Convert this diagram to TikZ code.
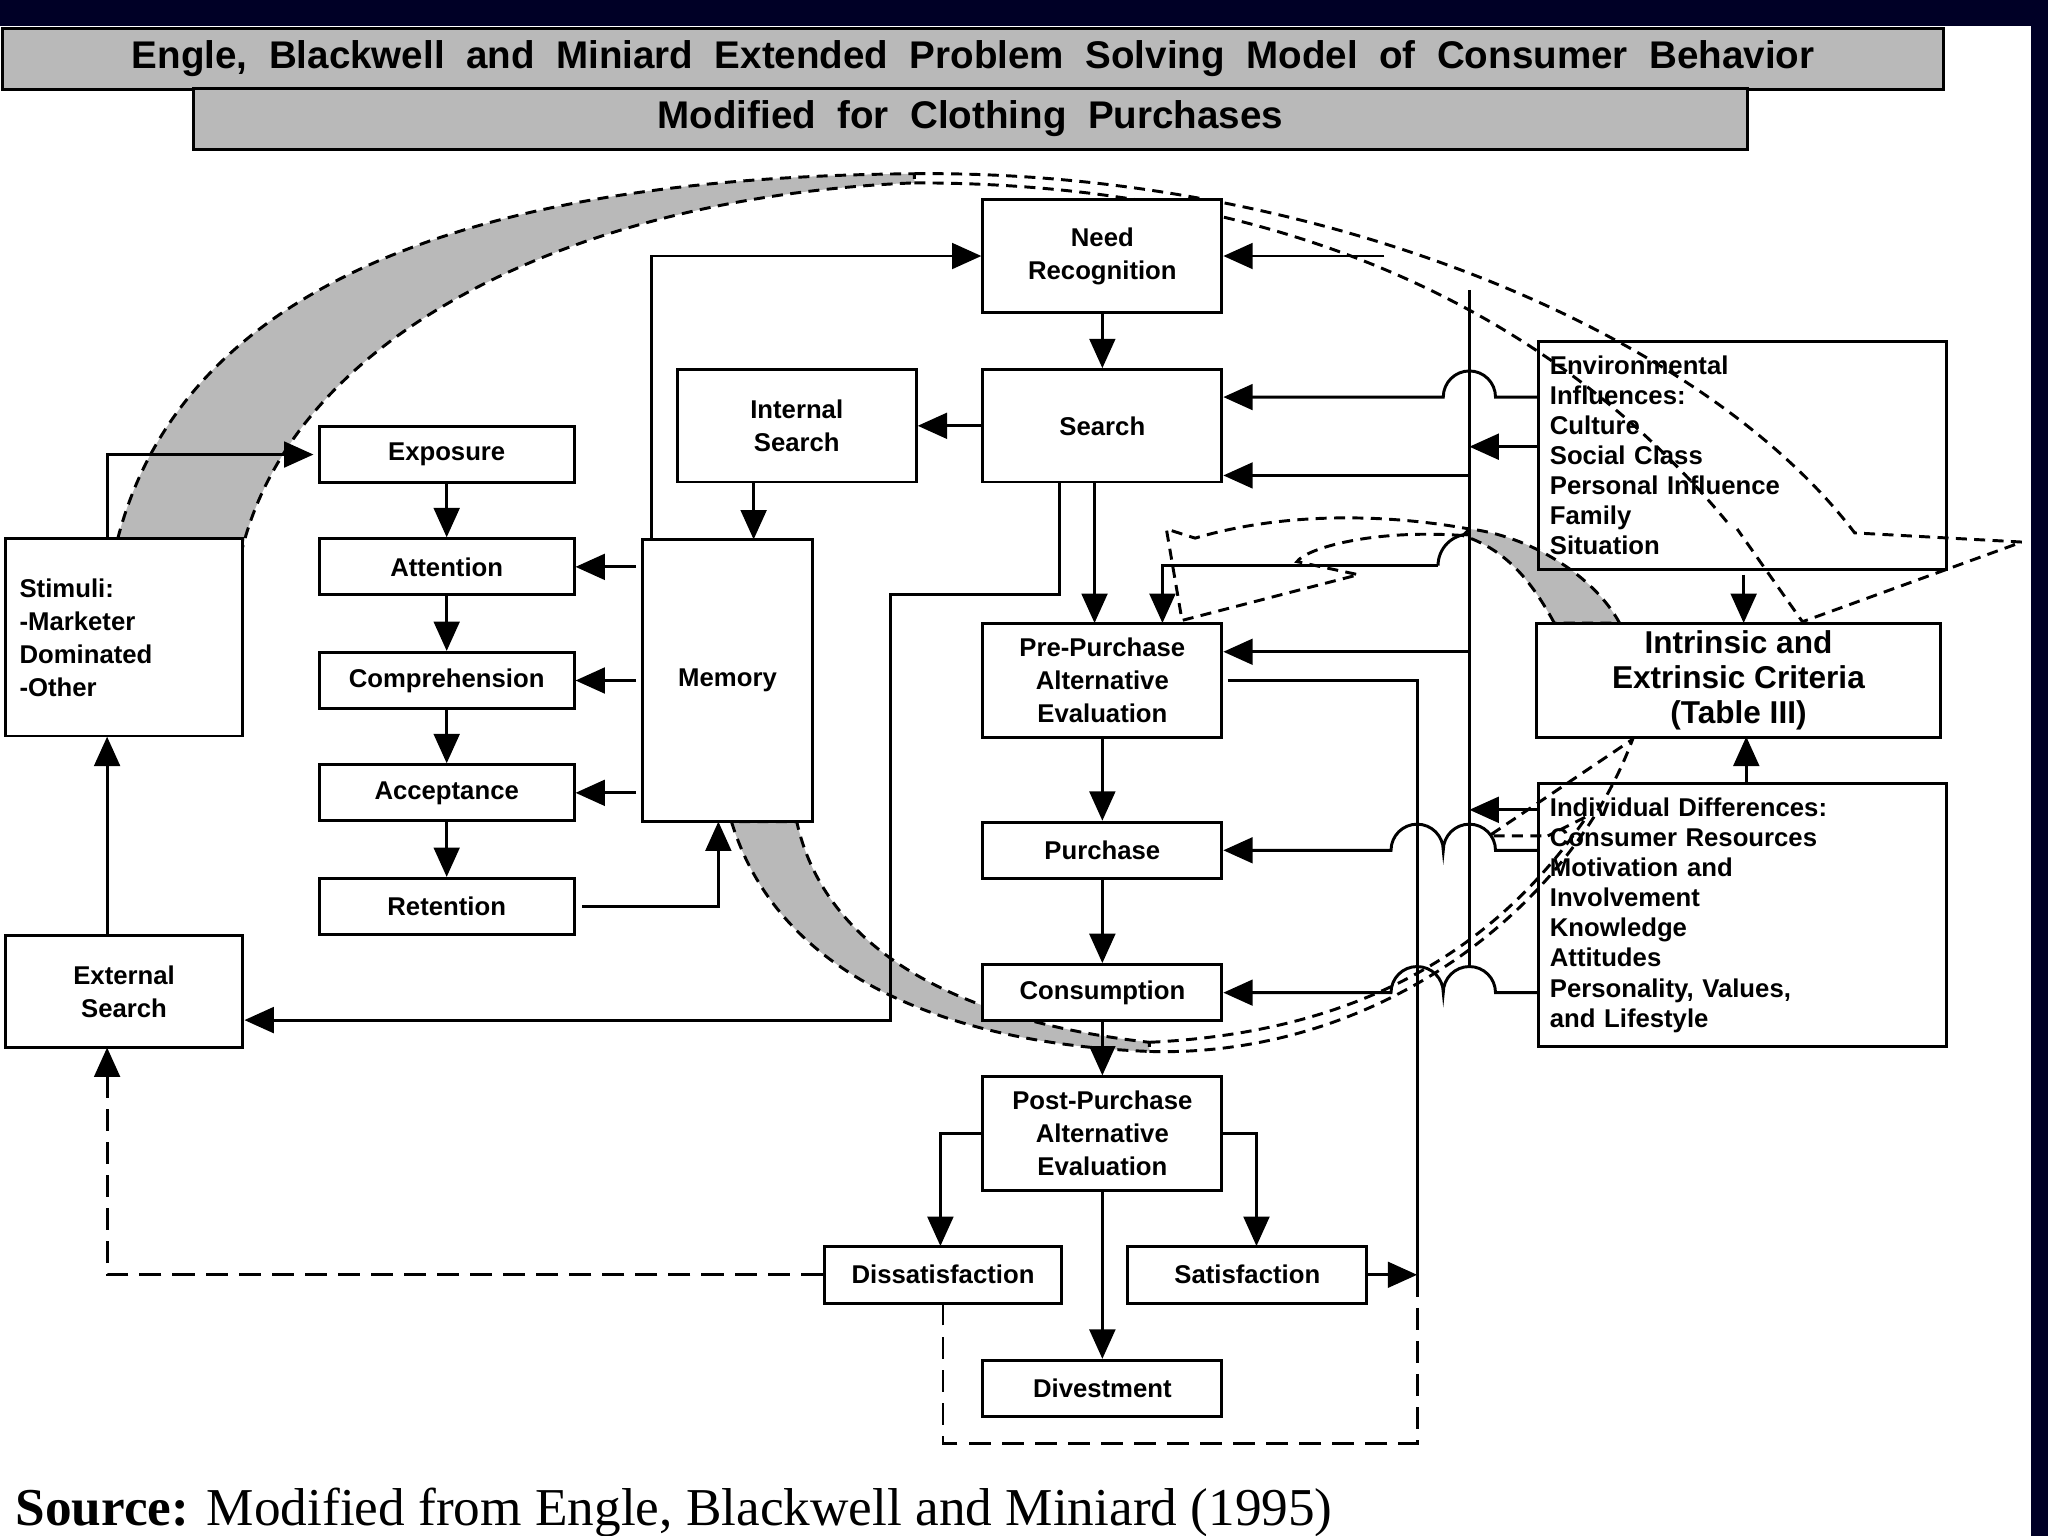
\documentclass[tikz,border=0pt]{standalone}
\usepackage{fontspec}
\setmainfont{Liberation Sans}
\newfontfamily\srcfont{Liberation Serif}
\usetikzlibrary{arrows.meta}
\begin{document}
\begin{tikzpicture}[x=0.0125cm,y=-0.0125cm,
  box/.style={draw,thick,fill=white,inner sep=0pt,align=center,font=\fontsize{7}{9}\selectfont\bfseries},
  ar/.style={thick,-{Triangle[length=8pt,width=7pt]}},
  ln/.style={thick},
  dsh/.style={thick,dash pattern=on 6pt off 3pt},
  band/.style={thick,dash pattern=on 3pt off 2pt}]
\useasboundingbox (0,0) rectangle (1568,1176);
\fill[black!85!blue] (0,0) rectangle (1568,1176);
\fill[white] (0,20) rectangle (1555,1176);
% titles
\node[draw,thick,fill=gray!55,minimum width=1486*0.0125cm,minimum height=42*0.0125cm,font=\fontsize{10.5}{12}\bfseries] (t1) at (745,45) {Engle,\ \ Blackwell\ \ and\ \ Miniard\ \ Extended\ \ Problem\ \ Solving\ \ Model\ \ of\ \ Consumer\ \ Behavior};
\node[draw,thick,fill=gray!55,minimum width=1190*0.0125cm,minimum height=39*0.0125cm,font=\fontsize{10.5}{12}\bfseries] (t2) at (743,91) {Modified\ \ for\ \ Clothing\ \ Purchases};
% gray bands (behind)
\path[band,draw,fill=gray!55] (90,413) .. controls (150,180) and (450,135) .. (700,133)
   -- (700,140) .. controls (450,150) and (230,250) .. (186,418) -- cycle;
\draw[band] (700,133) .. controls (1000,130) and (1300,250) .. (1420,408) -- (1548,415) -- (1380,476) -- (1330,405) ;
\draw[band] (700,140) .. controls (1000,140) and (1200,250) .. (1325,403);
\path[band,draw,fill=gray!55] (560,629) .. controls (600,760) and (750,800) .. (880,805)
   -- (880,798) .. controls (720,780) and (630,720) .. (610,629) -- cycle;
\draw[band] (880,805) .. controls (1050,810) and (1200,700) .. (1250,566) -- (1140,640) -- (1185,640);
\draw[band] (880,798) .. controls (1050,790) and (1150,720) .. (1215,625) -- (1185,640);
\path[band,draw,fill=gray!55] (1190,477) .. controls (1170,440) and (1150,420) .. (1120,410)
   -- (1125,405) .. controls (1170,410) and (1220,440) .. (1240,477) -- cycle;
\draw[band] (1120,410) .. controls (1050,405) and (1000,420) .. (993,430) -- (1040,440) -- (905,475) -- (893,405) -- (915,412) .. controls (990,390) and (1070,395) .. (1125,405);
% boxes
\node[box,minimum width=183*0.0125cm,minimum height=86*0.0125cm] (need) at (844,196) {Need\\Recognition};
\node[box,minimum width=183*0.0125cm,minimum height=86*0.0125cm] (search) at (844,326) {Search};
\node[box,minimum width=183*0.0125cm,minimum height=86*0.0125cm] (isearch) at (610,326) {Internal\\Search};
\node[box,minimum width=195*0.0125cm,minimum height=43*0.0125cm] (expo) at (342,348) {Exposure};
\node[box,minimum width=195*0.0125cm,minimum height=43*0.0125cm] (atte) at (342,434) {Attention};
\node[box,minimum width=195*0.0125cm,minimum height=43*0.0125cm] (comp) at (342,521) {Comprehension};
\node[box,minimum width=195*0.0125cm,minimum height=43*0.0125cm] (acce) at (342,607) {Acceptance};
\node[box,minimum width=195*0.0125cm,minimum height=43*0.0125cm] (rete) at (342,694) {Retention};
\node[box,minimum width=130*0.0125cm,minimum height=216*0.0125cm] (mem) at (557,521) {Memory};
\node[box,align=left,minimum width=182*0.0125cm,minimum height=151*0.0125cm,text width=160*0.0125cm] (stim) at (95,488) {Stimuli:\\-Marketer\\Dominated\\-Other};
\node[box,minimum width=182*0.0125cm,minimum height=86*0.0125cm] (ext) at (95,759) {External\\Search};
\node[box,minimum width=183*0.0125cm,minimum height=87*0.0125cm] (pre) at (844,521) {Pre-Purchase\\Alternative\\Evaluation};
\node[box,minimum width=183*0.0125cm,minimum height=43*0.0125cm] (pur) at (844,651) {Purchase};
\node[box,minimum width=183*0.0125cm,minimum height=43*0.0125cm] (cons) at (844,760) {Consumption};
\node[box,minimum width=183*0.0125cm,minimum height=87*0.0125cm] (post) at (844,868) {Post-Purchase\\Alternative\\Evaluation};
\node[box,minimum width=182*0.0125cm,minimum height=44*0.0125cm] (dis) at (722,976) {Dissatisfaction};
\node[box,minimum width=183*0.0125cm,minimum height=44*0.0125cm] (sat) at (955,976) {Satisfaction};
\node[box,minimum width=183*0.0125cm,minimum height=43*0.0125cm] (div) at (844,1063) {Divestment};
\node[box,fill=none,align=left,anchor=north west,minimum width=312*0.0125cm,minimum height=150*0.0125cm,text width=295*0.0125cm,inner ysep=11*0.0125cm,font=\fontsize{7}{8.2}\selectfont\bfseries] (env) at (1177,260) {Environmental\\Influences:\\Culture\\Social Class\\Personal Influence\\Family\\Situation};
\node[box,minimum width=309*0.0125cm,minimum height=87*0.0125cm,font=\fontsize{8.6}{9.5}\selectfont\bfseries] (intr) at (1331,521) {Intrinsic and\\Extrinsic Criteria\\(Table III)};
\node[box,fill=none,align=left,anchor=north west,minimum width=312*0.0125cm,minimum height=201*0.0125cm,text width=295*0.0125cm,inner ysep=9*0.0125cm,font=\fontsize{7}{8.2}\selectfont\bfseries] (ind) at (1177,599) {Individual Differences:\\Consumer Resources\\Motivation and\\Involvement\\Knowledge\\Attitudes\\Personality, Values,\\and Lifestyle};
% coordinates
\coordinate (busT) at (1125,222);
\coordinate (busB) at (1125,740);
\draw[ln] (busT) -- (busB);
% main chain
\draw[ar] (need) -- (search);
\draw[ar] (search) -- (isearch);
\draw[ar] (577,369) -- (577,413);
\draw[ar] (expo) -- (atte);
\draw[ar] (atte) -- (comp);
\draw[ar] (comp) -- (acce);
\draw[ar] (acce) -- (rete);
\draw[ar] (487,434) -- (atte.east);
\draw[ar] (487,521) -- (comp.east);
\draw[ar] (487,607) -- (acce.east);
\draw[ar] (rete.east) ++(5,0) -| (550,629);
\draw[ar] (499,413) |- (need.west |- 0,196);
\draw[ar] (82,413) |- (240,348);
\draw[ar] (ext.north -| 82,0) -- (82,564);
\draw[ar] (811,369) |- (682,455) |- (ext.east |- 0,781);
\draw[ar] (838,369) -- (838,477);
\draw[ar] (1101,433) -- (890,433) -- (890,477);
\draw[ar] (pre) -- (pur);
\draw[ar] (pur) -- (cons);
\draw[ar] (cons) -- (post);
\draw[ar] (post) -- (div);
\draw[ar] (753,868) -| (720,954);
\draw[ar] (936,868) -| (962,954);
% right side inputs
\draw[ar] (1060,196) -- (need.east |- 0,196);
\draw[ar] (1177,304) -- (1145,304) arc (0:-180:20) -- (search.east |- 0,304);
\draw[ar] (1177,342) -- (1125,342);
\draw[ar] (1125,364) -- (search.east |- 0,364);
\draw[ar] (1125,499) -- (pre.east |- 0,499);
\draw[ln] (1101,433) arc (180:270:24);
\draw[ln] (940,521) -| (1085,976);
\draw[ar] (sat) -- (1085,976);
\draw[dsh] (1085,976) -- (1085,1105) -| (722,998);
\draw[dsh,-{Triangle[length=8pt,width=7pt]}] (dis.west) -| (82,802);
\draw[ar] (1177,651) -- (1145,651) arc (0:-180:20) -- (1105,651) arc (0:-180:20) -- (pur.east);
\draw[ar] (1177,760) -- (1145,760) arc (0:-180:20) -- (1105,760) arc (0:-180:20) -- (cons.east);
\draw[ar] (1177,620) -- (1125,620);
\draw[ar] (1337,599) -- (1337,564);
\draw[ar] (1335,440) -- (1335,477);
% source
\node[anchor=west,font=\srcfont\fontsize{14.5}{16}\selectfont] (src) at (2,1158) {\textbf{Source:} Modified from Engle, Blackwell and Miniard (1995)};
\end{tikzpicture}
\end{document}
